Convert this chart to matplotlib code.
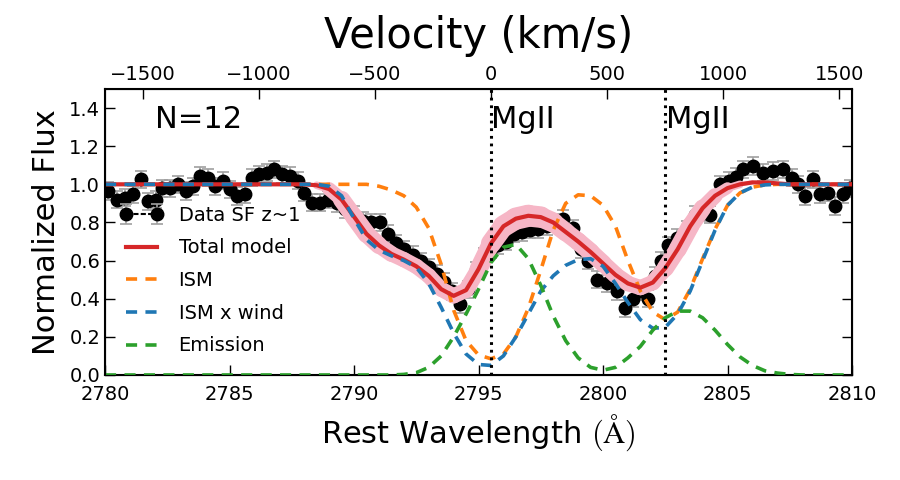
import matplotlib
matplotlib.use("Agg")
import matplotlib.pyplot as plt
from matplotlib.lines import Line2D
from matplotlib.collections import LineCollection

plt.rcParams["mathtext.fontset"] = "cm"
plt.rcParams["lines.scale_dashes"] = False

# Stacked spectrum (data points)
wave = [2780.13, 2780.47, 2780.80, 2781.14, 2781.43, 2781.74, 2782.05, 2782.30,
        2782.61, 2782.94, 2783.25, 2783.55, 2783.82, 2784.15, 2784.42, 2784.75,
        2785.02, 2785.29, 2785.62, 2785.89, 2786.20, 2786.49, 2786.79, 2787.10,
        2787.43, 2787.76, 2787.99, 2788.30, 2788.63, 2788.95, 2789.30, 2789.65,
        2790.00, 2790.35, 2790.70, 2791.04, 2791.36, 2791.70, 2792.00, 2792.35,
        2792.68, 2793.00, 2793.32, 2793.62, 2793.95, 2794.26, 2794.58, 2794.90,
        2795.20, 2795.50, 2795.80, 2796.10, 2796.42, 2796.75, 2797.07, 2797.40,
        2797.75, 2798.08, 2798.40, 2798.80, 2799.12, 2799.41, 2799.75, 2800.15,
        2800.55, 2800.88, 2801.22, 2801.52, 2801.82, 2802.08, 2802.34, 2802.62,
        2802.96, 2803.36, 2803.70, 2804.00, 2804.30, 2804.70, 2805.05, 2805.35,
        2805.64, 2806.04, 2806.44, 2806.84, 2807.24, 2807.58, 2807.85, 2808.10,
        2808.45, 2808.72, 2809.05, 2809.32, 2809.65, 2809.92]
flux = [0.965, 0.92, 0.93, 0.947, 1.026, 0.912, 0.92, 0.98,
        0.98, 1.0, 0.965, 0.99, 1.044, 1.035, 0.99, 1.018,
        0.974, 0.939, 0.947, 1.035, 1.053, 1.061, 1.079, 1.053,
        1.044, 1.018, 0.956, 0.904, 0.904, 0.92, 0.90, 0.87,
        0.84, 0.81, 0.80, 0.80, 0.74, 0.69, 0.66, 0.63,
        0.596, 0.565, 0.53, 0.49, 0.44, 0.37, 0.45, 0.55,
        0.62, 0.66, 0.68, 0.70, 0.74, 0.75, 0.763, 0.765,
        0.78, 0.80, 0.82, 0.77, 0.66, 0.60, 0.50, 0.48,
        0.44, 0.35, 0.40, 0.44, 0.40, 0.52, 0.60, 0.68,
        0.72, 0.763, 0.84, 0.85, 0.84, 1.0, 1.02, 1.04,
        1.079, 1.096, 1.061, 1.07, 1.079, 1.035, 1.0, 0.939,
        1.026, 0.947, 0.956, 0.886, 0.947, 0.98]
flux_err = 0.045

# Model curves, read every 0.5 A
model_wave = [2780.0, 2780.5, 2781.0, 2781.5, 2782.0, 2782.5, 2783.0, 2783.5,
              2784.0, 2784.5, 2785.0, 2785.5, 2786.0, 2786.5, 2787.0, 2787.5,
              2788.0, 2788.5, 2789.0, 2789.5, 2790.0, 2790.5, 2791.0, 2791.5,
              2792.0, 2792.5, 2793.0, 2793.5, 2794.0, 2794.5, 2795.0, 2795.5,
              2796.0, 2796.5, 2797.0, 2797.5, 2798.0, 2798.5, 2799.0, 2799.5,
              2800.0, 2800.5, 2801.0, 2801.5, 2802.0, 2802.5, 2803.0, 2803.5,
              2804.0, 2804.5, 2805.0, 2805.5, 2806.0, 2806.5, 2807.0, 2807.5,
              2808.0, 2808.5, 2809.0, 2809.5, 2810.0]
total_model = [1.0, 1.0, 1.0, 1.0, 1.0, 1.0, 1.0, 1.0,
               1.0, 1.0, 1.0, 1.0, 1.0, 1.0, 1.0, 1.0,
               1.0, 0.995, 0.975, 0.92, 0.83, 0.74, 0.68, 0.635,
               0.605, 0.57, 0.52, 0.45, 0.415, 0.445, 0.555, 0.69,
               0.78, 0.82, 0.835, 0.828, 0.80, 0.75, 0.70, 0.645,
               0.585, 0.525, 0.48, 0.458, 0.485, 0.56, 0.66, 0.78,
               0.875, 0.94, 0.98, 1.0, 1.01, 1.01, 1.005, 1.0,
               1.0, 1.0, 1.0, 1.0, 1.0]
# spread of the model draws around the total model (line width in points)
draw_spread = [0, 0, 0, 0, 0, 0, 0, 0,
               0, 0, 0, 0, 0, 0, 0, 0,
               0, 3, 8, 12, 13, 13, 12, 11,
               11, 11, 11, 11, 11, 11, 12, 14,
               15, 16, 16, 15, 14, 13, 13, 13,
               12, 12, 11, 11, 11, 12, 13, 13,
               12, 10, 7, 4, 2, 0, 0, 0,
               0, 0, 0, 0, 0]
ism = [1.0, 1.0, 1.0, 1.0, 1.0, 1.0, 1.0, 1.0,
       1.0, 1.0, 1.0, 1.0, 1.0, 1.0, 1.0, 1.0,
       1.0, 1.0, 1.0, 1.0, 1.0, 1.0, 0.99, 0.97,
       0.94, 0.88, 0.77, 0.58, 0.34, 0.18, 0.105, 0.085,
       0.11, 0.20, 0.35, 0.55, 0.76, 0.90, 0.945, 0.94,
       0.89, 0.78, 0.60, 0.44, 0.33, 0.29, 0.33, 0.45,
       0.61, 0.765, 0.89, 0.955, 0.985, 0.997, 1.0, 1.0,
       1.0, 1.0, 1.0, 1.0, 1.0]
ism_wind = [1.0, 1.0, 1.0, 1.0, 1.0, 1.0, 1.0, 1.0,
            1.0, 1.0, 1.0, 1.0, 1.0, 1.0, 1.0, 1.0,
            1.0, 1.0, 0.99, 0.94, 0.82, 0.71, 0.655, 0.625,
            0.60, 0.565, 0.48, 0.355, 0.22, 0.11, 0.055, 0.05,
            0.10, 0.20, 0.32, 0.44, 0.52, 0.575, 0.605, 0.61,
            0.57, 0.48, 0.38, 0.29, 0.245, 0.25, 0.32, 0.44,
            0.60, 0.76, 0.89, 0.955, 0.985, 0.997, 1.0, 1.0,
            1.0, 1.0, 1.0, 1.0, 1.0]
emission = [0.0, 0.0, 0.0, 0.0, 0.0, 0.0, 0.0, 0.0,
            0.0, 0.0, 0.0, 0.0, 0.0, 0.0, 0.0, 0.0,
            0.0, 0.0, 0.0, 0.0, 0.0, 0.0, 0.0, 0.0,
            0.003, 0.012, 0.04, 0.10, 0.20, 0.32, 0.45, 0.59,
            0.67, 0.685, 0.61, 0.47, 0.31, 0.18, 0.09, 0.04,
            0.025, 0.04, 0.09, 0.15, 0.235, 0.30, 0.335, 0.335,
            0.30, 0.235, 0.16, 0.095, 0.05, 0.022, 0.01, 0.003,
            0.0, 0.0, 0.0, 0.0, 0.0]

mgii_lines = [2795.5, 2802.5]
vel_ticks = [-1500, -1000, -500, 0, 500, 1000, 1500]
c_kms = 299792.458
lam0 = mgii_lines[0]

fig = plt.figure(figsize=(9, 4.8), dpi=100)
ax = fig.add_axes([0.1167, 0.2188, 0.83, 0.5958])

eb = ax.errorbar(wave, flux, yerr=flux_err, fmt="o", color="k", ms=9,
                 ecolor="#a0a0a0", elinewidth=1.2, capsize=4, capthick=1.2, zorder=2)

# band of model draws: variable-width pink line
segs = []
widths = []
for i in range(len(model_wave) - 1):
    w = 0.5 * (draw_spread[i] + draw_spread[i + 1])
    if w > 0:
        segs.append([(model_wave[i], total_model[i]),
                     (model_wave[i + 1], total_model[i + 1])])
        widths.append(w)
band = LineCollection(segs, linewidths=widths, colors="#f6b6c6",
                      capstyle="round", joinstyle="round", zorder=3)
ax.add_collection(band)

dash = (8, 6)
ax.plot(model_wave, ism, color="#ff7f0e", lw=2.6, dashes=dash, zorder=4)
ax.plot(model_wave, total_model, color="#d62728", lw=3, zorder=5)
ax.plot(model_wave, ism_wind, color="#1f77b4", lw=2.6, dashes=dash, zorder=6)
ax.plot(model_wave, emission, color="#2ca02c", lw=2.6, dashes=dash, zorder=6)

for lam in mgii_lines:
    ax.axvline(lam, color="k", lw=2.2, dashes=(2, 3.5), zorder=7)
    ax.text(lam + 0.02, 0.864, "MgII", transform=ax.get_xaxis_transform(),
            fontsize=22, va="baseline", ha="left")
ax.text(0.067, 0.864, "N=12", transform=ax.transAxes, fontsize=22, va="baseline")

ax.set_xlim(2780, 2810)
ax.set_ylim(0, 1.5)
ax.set_xticks([2780, 2785, 2790, 2795, 2800, 2805, 2810])
ax.set_yticks([0.0, 0.2, 0.4, 0.6, 0.8, 1.0, 1.2, 1.4])
ax.tick_params(direction="in", length=7, width=1, labelsize=14, right=True, top=False)
ax.tick_params(axis="x", pad=7)
ax.set_xlabel(r"Rest Wavelength $(\mathrm{\AA})$", fontsize=22, labelpad=6)
ax.set_ylabel("Normalized Flux", fontsize=22, labelpad=6)
for s in ax.spines.values():
    s.set_linewidth(1.5)

# velocity axis on top
ax2 = ax.twiny()
ax2.set_xlim(c_kms * (2780 - lam0) / lam0, c_kms * (2810 - lam0) / lam0)
ax2.set_xticks(vel_ticks)
ax2.tick_params(direction="in", length=7, width=1, labelsize=14)
ax2.set_xlabel("Velocity (km/s)", fontsize=30, labelpad=12)

# legend: data handle = error bar markers joined by a dashed line
data_h = (eb, Line2D([], [], color="k", ls="--", lw=1.5))
handles = [data_h,
           Line2D([], [], color="#d62728", lw=3),
           Line2D([], [], color="#ff7f0e", lw=2.6, dashes=dash),
           Line2D([], [], color="#1f77b4", lw=2.6, dashes=dash),
           Line2D([], [], color="#2ca02c", lw=2.6, dashes=dash)]
labels = ["Data SF z~1", "Total model", "ISM", "ISM x wind", "Emission"]
ax.legend(handles, labels, loc="center left", bbox_to_anchor=(0.01, 0.33),
          frameon=False, fontsize=14, numpoints=2, handlelength=2.2,
          handletextpad=0.8, labelspacing=0.7, borderaxespad=0)

fig.savefig("out.png", dpi=100)
